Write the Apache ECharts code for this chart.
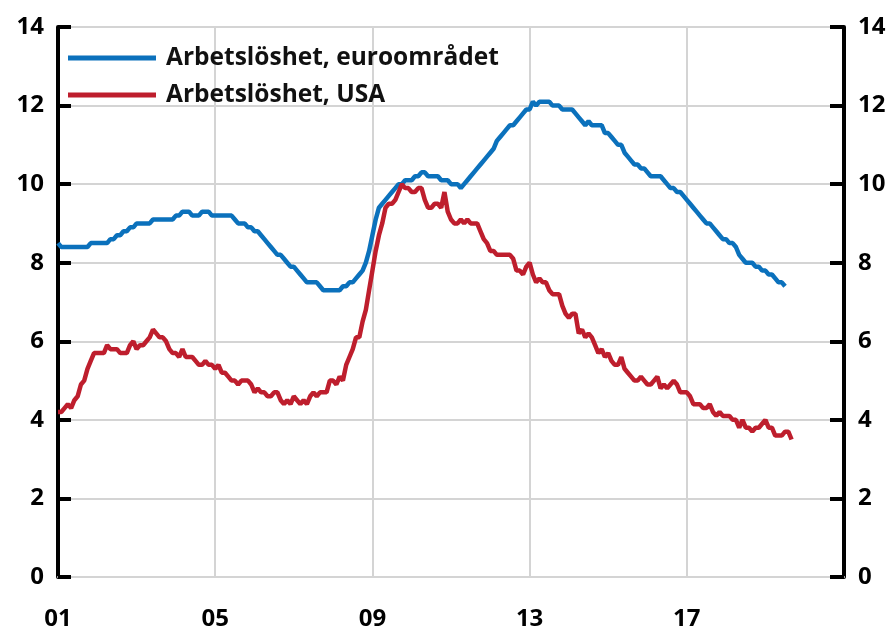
<!DOCTYPE html>
<html>
<head>
<meta charset="utf-8">
<script src="https://cdn.jsdelivr.net/npm/echarts@6/dist/echarts.min.js"></script>
<style>
  html, body { margin: 0; padding: 0; background: #fff; }
  #chart { width: 894px; height: 628px; }
</style>
</head>
<body>
<div id="chart"></div>
<script>
// first month of both series: Jan 2001, monthly data
const startYear = 2001

const seriesNames = ['Arbetslöshet, euroområdet', 'Arbetslöshet, USA']

// euro area unemployment, % (Jan 2001 - Jul 2019)
const euroArea = [
  8.5, 8.4, 8.4, 8.4, 8.4, 8.4, 8.4, 8.4, 8.4, 8.4, 8.5, 8.5,
  8.5, 8.5, 8.5, 8.5, 8.6, 8.6, 8.7, 8.7, 8.8, 8.8, 8.9, 8.9,
  9.0, 9.0, 9.0, 9.0, 9.0, 9.1, 9.1, 9.1, 9.1, 9.1, 9.1, 9.1,
  9.2, 9.2, 9.3, 9.3, 9.3, 9.2, 9.2, 9.2, 9.3, 9.3, 9.3, 9.2,
  9.2, 9.2, 9.2, 9.2, 9.2, 9.2, 9.1, 9.0, 9.0, 9.0, 8.9, 8.9,
  8.8, 8.8, 8.7, 8.6, 8.5, 8.4, 8.3, 8.2, 8.2, 8.1, 8.0, 7.9,
  7.9, 7.8, 7.7, 7.6, 7.5, 7.5, 7.5, 7.5, 7.4, 7.3, 7.3, 7.3,
  7.3, 7.3, 7.3, 7.4, 7.4, 7.5, 7.5, 7.6, 7.7, 7.8, 8.0, 8.3,
  8.7, 9.1, 9.4, 9.5, 9.6, 9.7, 9.8, 9.9, 10.0, 10.0, 10.1, 10.1,
  10.1, 10.2, 10.2, 10.3, 10.3, 10.2, 10.2, 10.2, 10.2, 10.1, 10.1, 10.1,
  10.0, 10.0, 10.0, 9.9, 10.0, 10.1, 10.2, 10.3, 10.4, 10.5, 10.6, 10.7,
  10.8, 10.9, 11.1, 11.2, 11.3, 11.4, 11.5, 11.5, 11.6, 11.7, 11.8, 11.9,
  11.9, 12.1, 12.0, 12.1, 12.1, 12.1, 12.1, 12.0, 12.0, 12.0, 11.9, 11.9,
  11.9, 11.9, 11.8, 11.7, 11.6, 11.5, 11.6, 11.5, 11.5, 11.5, 11.5, 11.3,
  11.3, 11.2, 11.1, 11.0, 11.0, 10.8, 10.7, 10.6, 10.5, 10.5, 10.4, 10.4,
  10.3, 10.2, 10.2, 10.2, 10.2, 10.1, 10.0, 9.9, 9.9, 9.8, 9.8, 9.7,
  9.6, 9.5, 9.4, 9.3, 9.2, 9.1, 9.0, 9.0, 8.9, 8.8, 8.7, 8.6,
  8.6, 8.5, 8.5, 8.4, 8.2, 8.1, 8.0, 8.0, 8.0, 7.9, 7.9, 7.8,
  7.8, 7.7, 7.7, 7.6, 7.5, 7.5, 7.4
]

// US unemployment, % (Jan 2001 - Sep 2019)
const usa = [
  4.2, 4.2, 4.3, 4.4, 4.3, 4.5, 4.6, 4.9, 5.0, 5.3, 5.5, 5.7,
  5.7, 5.7, 5.7, 5.9, 5.8, 5.8, 5.8, 5.7, 5.7, 5.7, 5.9, 6.0,
  5.8, 5.9, 5.9, 6.0, 6.1, 6.3, 6.2, 6.1, 6.1, 6.0, 5.8, 5.7,
  5.7, 5.6, 5.8, 5.6, 5.6, 5.6, 5.5, 5.4, 5.4, 5.5, 5.4, 5.4,
  5.3, 5.4, 5.2, 5.2, 5.1, 5.0, 5.0, 4.9, 5.0, 5.0, 5.0, 4.9,
  4.7, 4.8, 4.7, 4.7, 4.6, 4.6, 4.7, 4.7, 4.5, 4.4, 4.5, 4.4,
  4.6, 4.5, 4.4, 4.5, 4.4, 4.6, 4.7, 4.6, 4.7, 4.7, 4.7, 5.0,
  5.0, 4.9, 5.1, 5.0, 5.4, 5.6, 5.8, 6.1, 6.1, 6.5, 6.8, 7.3,
  7.8, 8.3, 8.7, 9.0, 9.4, 9.5, 9.5, 9.6, 9.8, 10.0, 9.9, 9.9,
  9.8, 9.8, 9.9, 9.9, 9.6, 9.4, 9.4, 9.5, 9.5, 9.4, 9.8, 9.3,
  9.1, 9.0, 9.0, 9.1, 9.0, 9.1, 9.0, 9.0, 9.0, 8.8, 8.6, 8.5,
  8.3, 8.3, 8.2, 8.2, 8.2, 8.2, 8.2, 8.1, 7.8, 7.8, 7.7, 7.9,
  8.0, 7.7, 7.5, 7.6, 7.5, 7.5, 7.3, 7.2, 7.2, 7.2, 6.9, 6.7,
  6.6, 6.7, 6.7, 6.2, 6.3, 6.1, 6.2, 6.1, 5.9, 5.7, 5.8, 5.6,
  5.7, 5.5, 5.4, 5.4, 5.6, 5.3, 5.2, 5.1, 5.0, 5.0, 5.1, 5.0,
  4.9, 4.9, 5.0, 5.1, 4.8, 4.9, 4.8, 4.9, 5.0, 4.9, 4.7, 4.7,
  4.7, 4.6, 4.4, 4.4, 4.4, 4.3, 4.3, 4.4, 4.2, 4.1, 4.2, 4.1,
  4.1, 4.1, 4.0, 4.0, 3.8, 4.0, 3.8, 3.8, 3.7, 3.8, 3.8, 3.9,
  4.0, 3.8, 3.8, 3.6, 3.6, 3.6, 3.7, 3.7, 3.5
]

// x ticks every 4 years, shown as two digits
const xTicks = [2001, 2005, 2009, 2013, 2017]
const xTickLabels = ['01', '05', '09', '13', '17']

const colors = ['#0b71bc', '#be1e2d']

function toPoints(values) {
  return values.map((v, i) => [startYear + i / 12, v])
}

const tickFont = {
  fontFamily: 'Open Sans',
  fontWeight: 'bold',
  fontSize: 24,
  color: '#000'
}

const chart = echarts.init(document.getElementById('chart'))

chart.setOption({
  animation: false,
  backgroundColor: '#fff',
  grid: { left: 58, right: 50, top: 27, bottom: 51, outerBoundsMode: 'none' },
  legend: {
    orient: 'vertical',
    left: 68,
    top: 45,
    padding: 0,
    itemWidth: 88,
    itemHeight: 5,
    itemGap: 11,
    icon: 'rect',
    data: seriesNames,
    textStyle: {
      fontFamily: 'Open Sans',
      fontWeight: 'bold',
      fontSize: 24.5,
      lineHeight: 26,
      color: '#111',
      padding: [0, 0, 0, 5]
    }
  },
  xAxis: {
    type: 'value',
    min: 2001,
    max: 2021,
    interval: 4,
    axisLine: { show: true, lineStyle: { color: '#d4d4d4', width: 2 } },
    axisTick: { show: false },
    splitLine: { show: true, lineStyle: { color: '#d4d4d4', width: 2 } },
    axisLabel: {
      ...tickFont,
      margin: 30,
      formatter: v => {
        const k = xTicks.indexOf(v)
        return k >= 0 ? xTickLabels[k] : ''
      }
    }
  },
  yAxis: [
    {
      type: 'value',
      min: 0,
      max: 14,
      interval: 2,
      axisLine: { show: true, lineStyle: { color: '#000', width: 4 } },
      axisTick: { show: true, inside: true, length: 13, lineStyle: { color: '#000', width: 4 } },
      splitLine: { show: true, lineStyle: { color: '#d4d4d4', width: 2 } },
      axisLabel: { ...tickFont, margin: 14 }
    },
    {
      type: 'value',
      min: 0,
      max: 14,
      interval: 2,
      position: 'right',
      axisLine: { show: true, lineStyle: { color: '#000', width: 4 } },
      axisTick: { show: true, inside: true, length: 14, lineStyle: { color: '#000', width: 4 } },
      splitLine: { show: false },
      axisLabel: { ...tickFont, margin: 14 }
    }
  ],
  series: [
    {
      name: seriesNames[0],
      type: 'line',
      data: toPoints(euroArea),
      showSymbol: false,
      symbol: 'none',
      color: colors[0],
      lineStyle: { width: 4.5, color: colors[0] }
    },
    {
      name: seriesNames[1],
      type: 'line',
      data: toPoints(usa),
      showSymbol: false,
      symbol: 'none',
      color: colors[1],
      lineStyle: { width: 4.5, color: colors[1] }
    }
  ]
})
</script>
</body>
</html>
